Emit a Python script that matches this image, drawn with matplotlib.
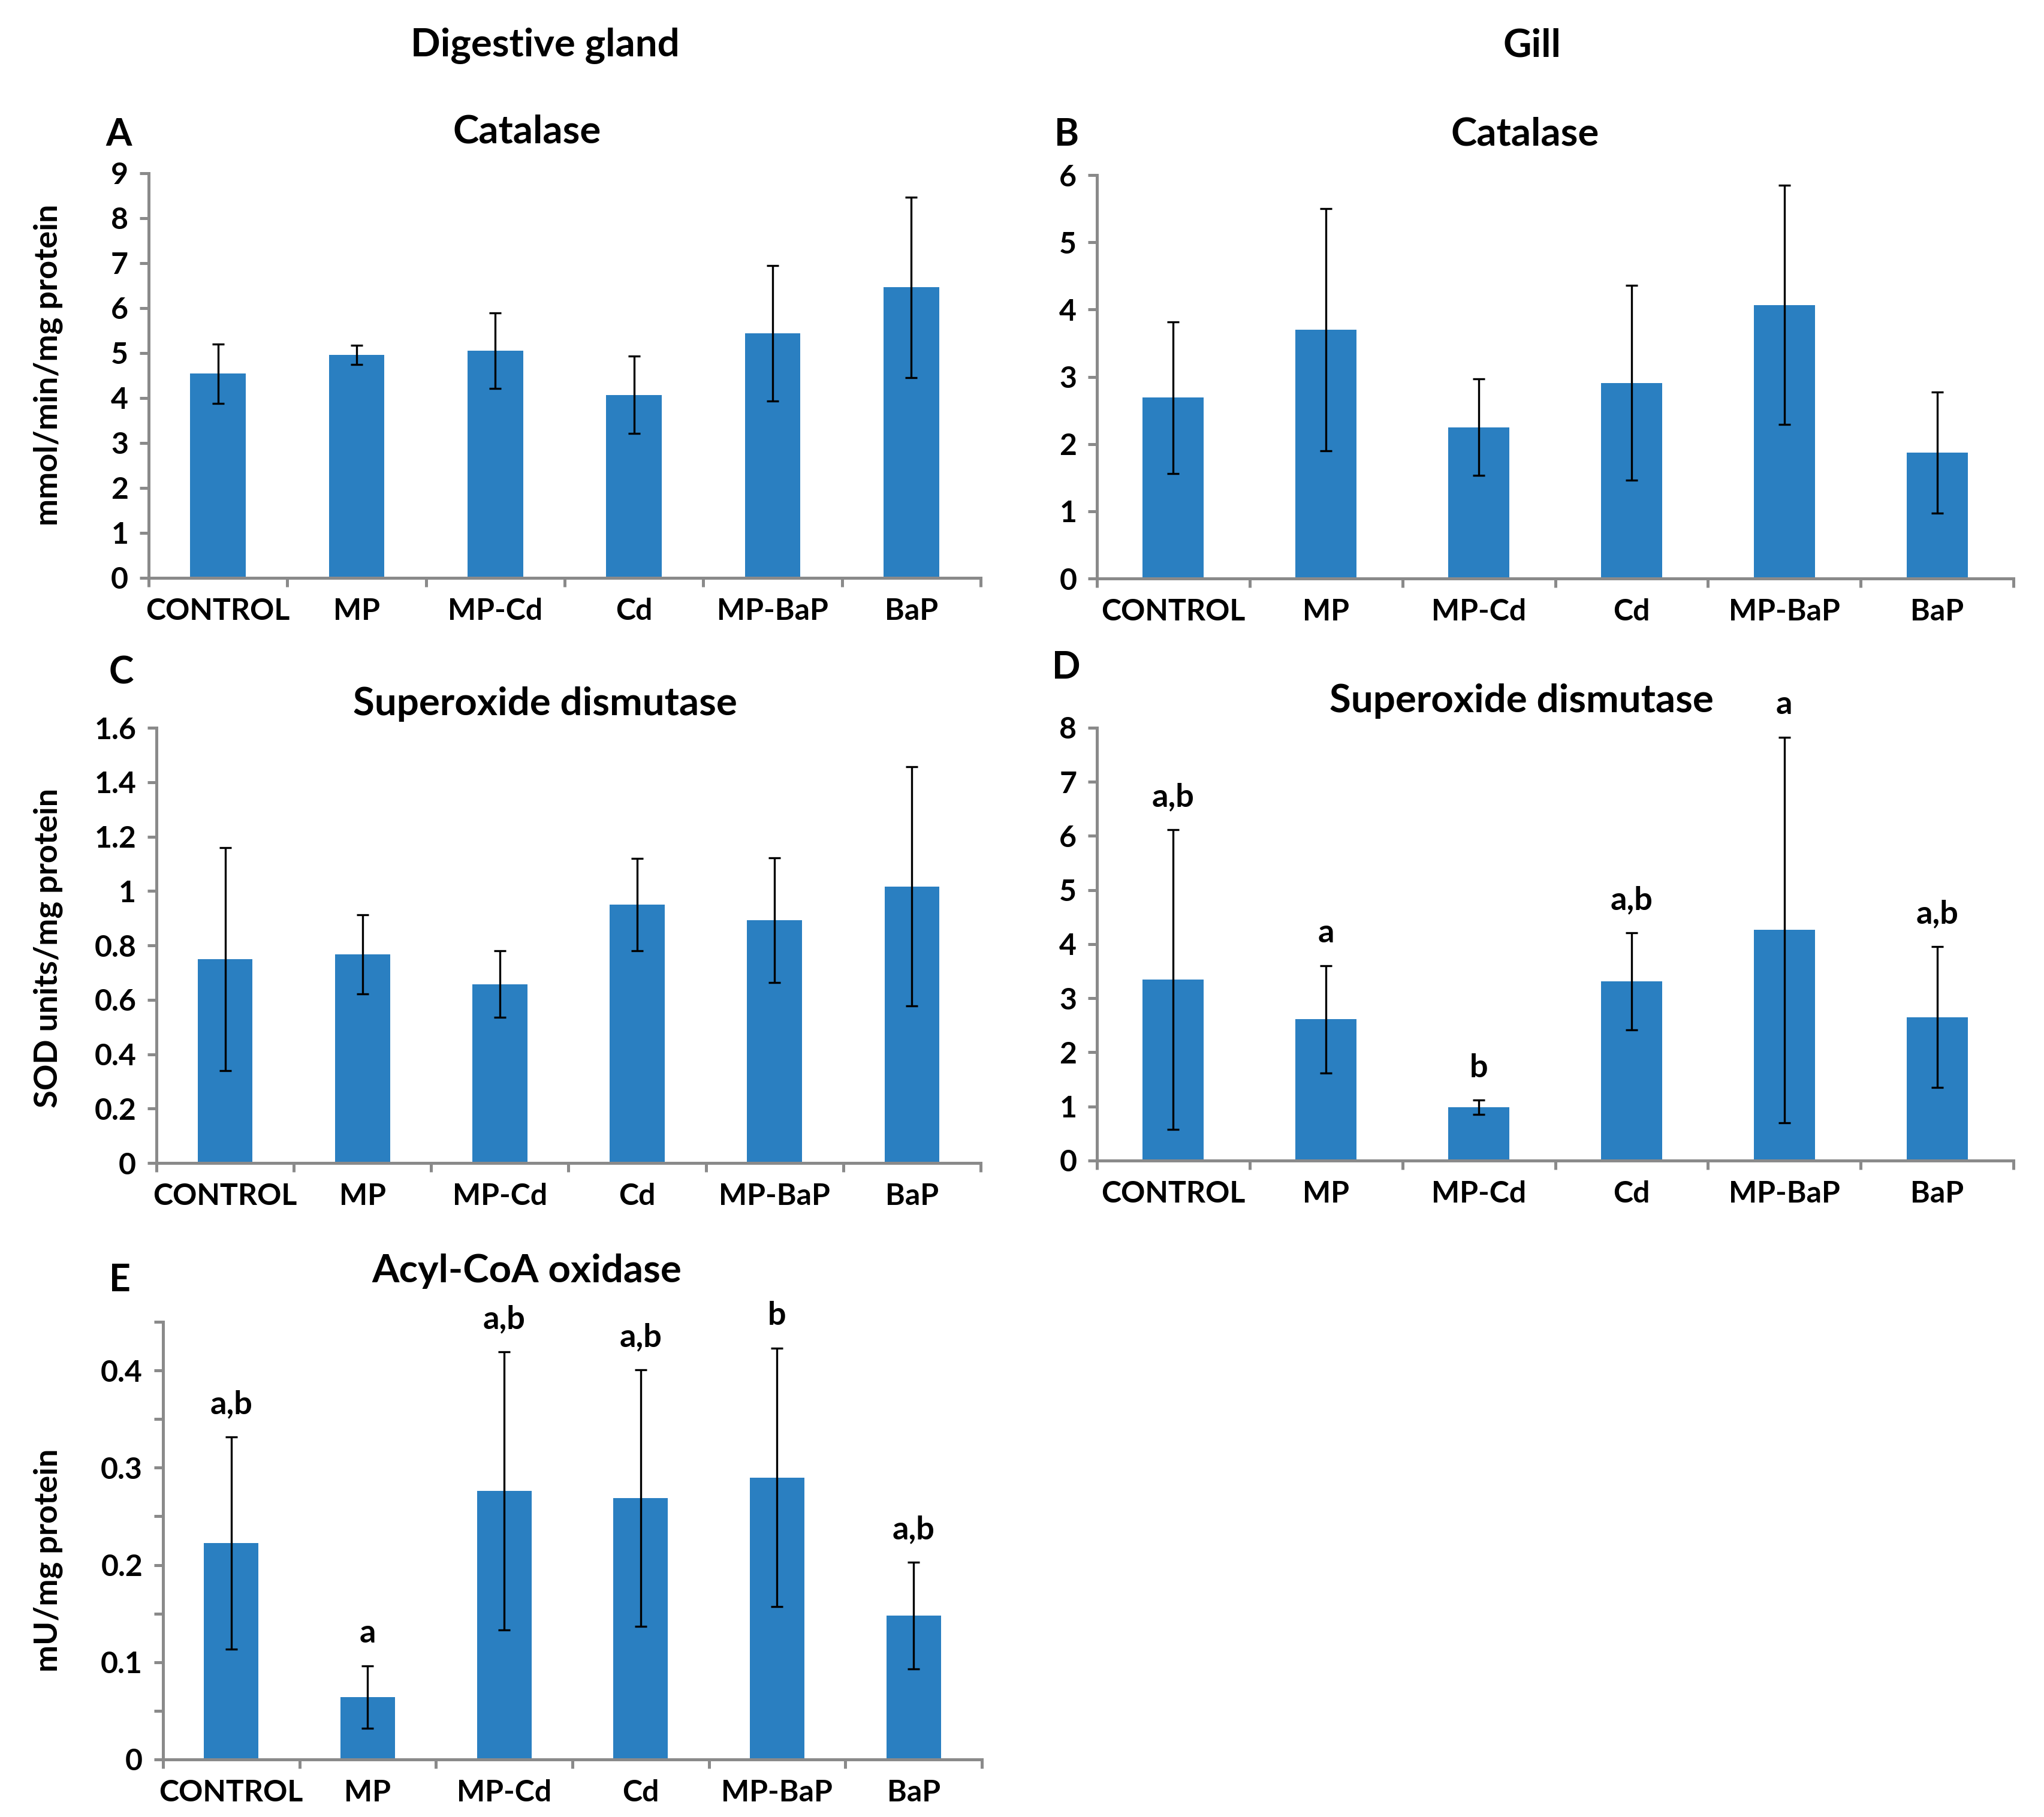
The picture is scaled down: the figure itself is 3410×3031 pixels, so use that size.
import numpy as np
import matplotlib
matplotlib.use("Agg")
import matplotlib.pyplot as plt

plt.rcParams['font.family'] = ['Lato', 'DejaVu Sans']
plt.rcParams['font.weight'] = 'bold'

groups = ["CONTROL", "MP", "MP-Cd", "Cd", "MP-BaP", "BaP"]

# A - catalase, digestive gland
cat_dg = [4.54, 4.96, 5.05, 4.07, 5.44, 6.46]
cat_dg_sd = [0.66, 0.21, 0.84, 0.86, 1.51, 2.01]

# B - catalase, gill
cat_gill = [2.69, 3.70, 2.25, 2.91, 4.07, 1.87]
cat_gill_sd = [1.13, 1.80, 0.72, 1.45, 1.78, 0.90]

# C - superoxide dismutase, digestive gland
sod_dg = [0.749, 0.767, 0.658, 0.950, 0.893, 1.017]
sod_dg_sd = [0.41, 0.145, 0.122, 0.17, 0.23, 0.44]

# D - superoxide dismutase, gill
sod_gill = [3.35, 2.61, 0.985, 3.31, 4.26, 2.65]
sod_gill_sd = [2.77, 0.99, 0.13, 0.90, 3.56, 1.30]
sod_gill_sig = ["a,b", "a", "b", "a,b", "a", "a,b"]

# E - acyl-CoA oxidase, digestive gland
aox_dg = [0.2226, 0.0642, 0.276, 0.269, 0.290, 0.148]
aox_dg_sd = [0.109, 0.032, 0.143, 0.132, 0.133, 0.055]
aox_dg_sig = ["a,b", "a", "a,b", "a,b", "b", "a,b"]

BLUE = '#2a7fc1'
GREY = '#8a8a8a'
TICK_SIZE = 12
TITLE_SIZE = 15.7
YLAB_SIZE = 13


def fmt_tick(v):
    return ('%.2f' % v).rstrip('0').rstrip('.')


def bar_panel(rect, values, errors, ymax, yticks, labelled=None, sig=None):
    ax = fig.add_axes(rect)
    x = np.arange(len(groups))
    ax.bar(x, values, width=0.4, color=BLUE, zorder=2)
    ax.errorbar(x, values, yerr=errors, fmt='none', ecolor='black',
                elinewidth=0.8, capsize=2.5, capthick=0.8, zorder=3)

    ax.set_xlim(-0.5, len(groups) - 0.5)
    ax.set_ylim(0, ymax)

    ax.set_xticks(x)
    ax.set_xticklabels(groups, fontsize=TICK_SIZE)
    # excel style: ticks sit between the categories
    ax.set_xticks(np.arange(-0.5, len(groups), 1), minor=True)
    ax.tick_params(axis='x', which='major', length=0, pad=8)
    ax.tick_params(axis='x', which='minor', length=3.6, width=1.2, color=GREY)

    ax.set_yticks(yticks)
    if labelled is None:
        labelled = yticks
    ax.set_yticklabels([fmt_tick(t) if t in labelled else '' for t in yticks],
                       fontsize=TICK_SIZE)
    ax.tick_params(axis='y', length=3.6, width=1.2, color=GREY, pad=4.5)

    for s in ['top', 'right']:
        ax.spines[s].set_visible(False)
    for s in ['left', 'bottom']:
        ax.spines[s].set_color(GREY)
        ax.spines[s].set_linewidth(1.2)

    if sig is not None:
        for xi, v, e, s in zip(x, values, errors, sig):
            ax.annotate(s, xy=(xi, v + e), xytext=(0, 13), textcoords='offset points',
                        ha='center', va='center', fontsize=13, fontweight='bold')
    return ax


fig = plt.figure(figsize=(3411 / 300, 3031 / 300), dpi=300)

axA = bar_panel([0.0727, 0.6820, 0.4069, 0.2227], cat_dg, cat_dg_sd, 9, list(range(10)))
axB = bar_panel([0.5365, 0.6816, 0.4483, 0.2220], cat_gill, cat_gill_sd, 6, list(range(7)))
axC = bar_panel([0.0765, 0.3599, 0.4031, 0.2395], sod_dg, sod_dg_sd, 1.6,
                [0, 0.2, 0.4, 0.6, 0.8, 1.0, 1.2, 1.4, 1.6])
axD = bar_panel([0.5365, 0.3613, 0.4483, 0.2382], sod_gill, sod_gill_sd, 8, list(range(9)),
                sig=sod_gill_sig)
e_ticks = [0, 0.05, 0.1, 0.15, 0.2, 0.25, 0.3, 0.35, 0.4, 0.45]
axE = bar_panel([0.0797, 0.0317, 0.4005, 0.2408], aox_dg, aox_dg_sd, 0.45, e_ticks,
                labelled=[0, 0.1, 0.2, 0.3, 0.4], sig=aox_dg_sig)

# column headers
fig.text(0.2665, 0.9749, "Digestive gland", ha='center', va='center', fontsize=TITLE_SIZE)
fig.text(0.7493, 0.9749, "Gill", ha='center', va='center', fontsize=TITLE_SIZE)

# panel letters
fig.text(0.0580, 0.9258, "A", ha='center', va='center', fontsize=15)
fig.text(0.5218, 0.9258, "B", ha='center', va='center', fontsize=15)
fig.text(0.0593, 0.6298, "C", ha='center', va='center', fontsize=15)
fig.text(0.5216, 0.6325, "D", ha='center', va='center', fontsize=15)
fig.text(0.0587, 0.2953, "E", ha='center', va='center', fontsize=15)

# panel titles
fig.text(0.2576, 0.9275, "Catalase", ha='center', va='center', fontsize=TITLE_SIZE)
fig.text(0.7460, 0.9260, "Catalase", ha='center', va='center', fontsize=TITLE_SIZE)
fig.text(0.2665, 0.6125, "Superoxide dismutase", ha='center', va='center', fontsize=TITLE_SIZE)
fig.text(0.7441, 0.6140, "Superoxide dismutase", ha='center', va='center', fontsize=TITLE_SIZE)
fig.text(0.2576, 0.3003, "Acyl-CoA oxidase", ha='center', va='center', fontsize=TITLE_SIZE)

# y labels
fig.text(0.0236, 0.799, "mmol/min/mg protein", rotation=90, ha='center', va='center', fontsize=YLAB_SIZE)
fig.text(0.0236, 0.4784, "SOD units/mg protein", rotation=90, ha='center', va='center', fontsize=YLAB_SIZE)
fig.text(0.0236, 0.1412, "mU/mg protein", rotation=90, ha='center', va='center', fontsize=YLAB_SIZE)

fig.savefig("out.png", dpi=300)
